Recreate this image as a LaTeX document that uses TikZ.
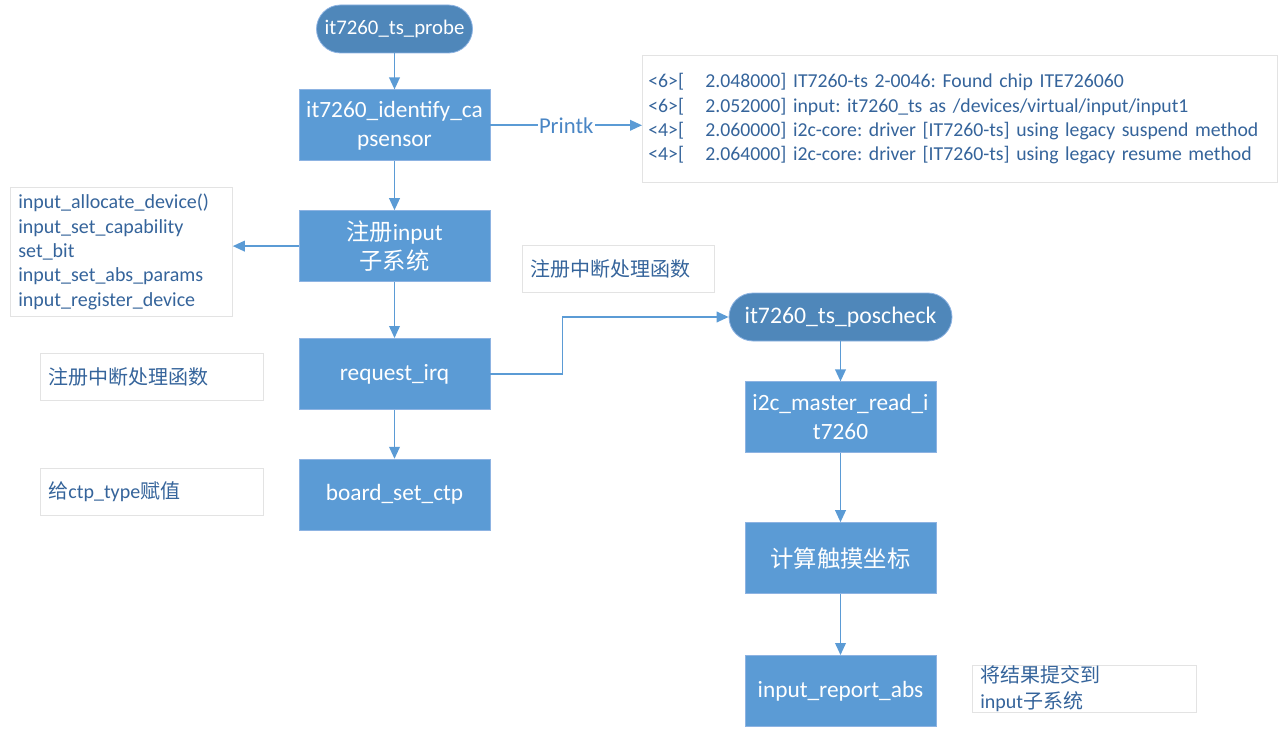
\documentclass[tikz,border=0pt]{standalone}
\usepackage{fontspec}
\setmainfont{Carlito}
\newfontfamily\cjk{Noto Sans CJK SC}
\newcommand{\zh}[1]{{\cjk #1}}
\usetikzlibrary{positioning,arrows.meta}
\frenchspacing

\definecolor{boxblue}{HTML}{5B9BD5}
\definecolor{pillblue}{HTML}{4F87BA}
\definecolor{rimblue}{HTML}{8DB3E2}
\definecolor{noteblue}{HTML}{35649B}
\definecolor{printblue}{HTML}{4A86C5}
\definecolor{notegray}{HTML}{E3E3E3}

\tikzset{
  proc/.style={rectangle, fill=boxblue, draw=rimblue, line width=0.6pt, text=white,
    minimum width=143.25pt, minimum height=53.25pt, inner sep=0pt, align=center,
    font=\fontsize{17.5}{21.75}\selectfont},
  term/.style={rectangle, rounded corners=18pt, fill=pillblue, draw=rimblue, line width=0.6pt,
    text=white, minimum height=36pt, inner sep=0pt, font=\fontsize{16.5}{20}\selectfont},
  note/.style={rectangle, draw=notegray, line width=0.6pt, fill=white, text=noteblue,
    anchor=north west, align=left, inner xsep=6pt, inner ysep=0pt, minimum height=35.25pt,
    font=\fontsize{15}{18.2}\selectfont},
  arr/.style={draw=boxblue, line width=1.2pt, -{Triangle[length=9pt,width=8pt]}}
}

\begin{document}
\begin{tikzpicture}[x=0.75pt, y=-0.75pt]
  \useasboundingbox (0,0) rectangle (1279,735);

  % probe flow
  \node[term, minimum width=117pt, font=\fontsize{15.6}{19}\selectfont] (probe) at (394.5,29) {it7260\_ts\_probe};
  \node[proc, below=27pt of probe] (identify) {it7260\_identify\_ca\\psensor};
  \node[proc, below=36.75pt of identify] (reginput) {\zh{注册}input\\\zh{子系统}};
  \node[proc, below=42pt of reginput] (irq) {request\_irq};
  \node[proc, below=36.75pt of irq] (setctp) {board\_set\_ctp};

  % interrupt handler flow
  \node[term, minimum width=167.25pt, font=\fontsize{17.8}{21}\selectfont] (poscheck) at (840.5,317) {it7260\_ts\_poscheck};
  \node[proc, below=30pt of poscheck] (i2cread) {i2c\_master\_read\_i\\t7260};
  \node[proc, below=51.75pt of i2cread] (calc) {\zh{计算触摸坐标}};
  \node[proc, below=45.75pt of calc] (report) {input\_report\_abs};

  % notes
  \node[note, text width=467.25pt, minimum height=95.25pt, inner xsep=4.5pt,
    font=\fontsize{14.8}{18.2}\selectfont] (printlog) at (642,55)
    {<6>[\hspace{16pt}2.048000] IT7260-ts 2-0046: Found chip ITE726060\\
     <6>[\hspace{16pt}2.052000] input: it7260\_ts as /devices/virtual/input/input1\\
     <4>[\hspace{16pt}2.060000] i2c-core: driver [IT7260-ts] using legacy suspend method\\
     <4>[\hspace{16pt}2.064000] i2c-core: driver [IT7260-ts] using legacy resume method};
  \node[note, text width=154.5pt, minimum height=96.75pt] (reglist) at (10,187)
    {input\_allocate\_device()\\ input\_set\_capability\\ set\_bit\\
     input\_set\_abs\_params\\ input\_register\_device};
  \node[note, text width=155.25pt] (irqnote) at (40,353) {\zh{注册中断处理函数}};
  \node[note, text width=155.25pt] (ctpnote) at (40,468) {\zh{给}ctp\_type\zh{赋值}};
  \node[note, text width=132pt] (handlernote) at (522,245) {\zh{注册中断处理函数}};
  \node[note, text width=156pt, font=\fontsize{15}{19.5}\selectfont] (reportnote) at (972,665)
    {\zh{将结果提交到}\\ input\zh{子系统}};

  % connectors
  \draw[arr] (probe) -- (identify);
  \draw[arr] (identify) -- (reginput);
  \draw[arr] (reginput) -- (irq);
  \draw[arr] (irq) -- (setctp);
  \draw[arr] (identify.east) -- node[fill=white, text=printblue, inner sep=1pt,
    font=\fontsize{17}{19}\selectfont] {Printk} (identify.east -| printlog.west);
  \draw[arr] (reginput.west) -- (reginput.west -| reglist.east);
  \draw[arr] (irq.east) -- ++(72,0) |- (poscheck.west);
  \draw[arr] (poscheck) -- (i2cread);
  \draw[arr] (i2cread) -- (calc);
  \draw[arr] (calc) -- (report);
\end{tikzpicture}
\end{document}
